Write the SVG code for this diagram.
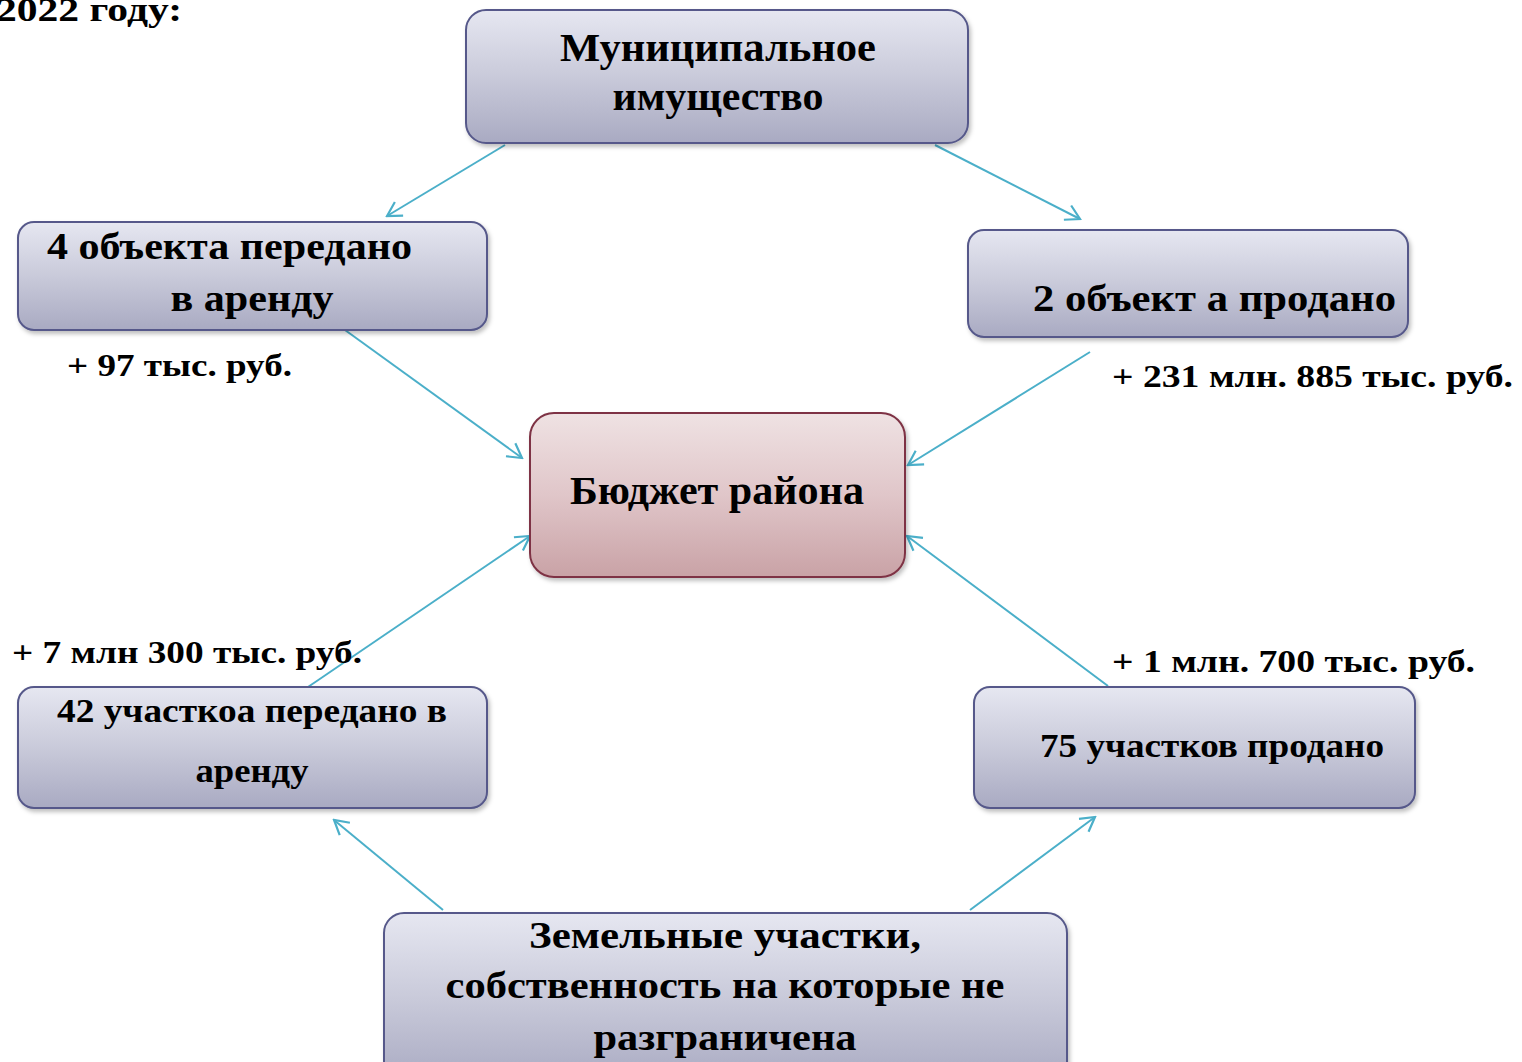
<svg xmlns="http://www.w3.org/2000/svg" width="1522" height="1062" viewBox="0 0 1522 1062">
<defs>
<linearGradient id="gb" x1="0" y1="0" x2="0" y2="1">
<stop offset="0" stop-color="#e6e7f1"/>
<stop offset="0.5" stop-color="#c9cada"/>
<stop offset="1" stop-color="#a9aac2"/>
</linearGradient>
<linearGradient id="gp" x1="0" y1="0" x2="0" y2="1">
<stop offset="0" stop-color="#efe2e3"/>
<stop offset="0.5" stop-color="#e0c6c9"/>
<stop offset="1" stop-color="#c9a2a6"/>
</linearGradient>
<filter id="sh" x="-5%" y="-5%" width="110%" height="115%">
<feDropShadow dx="2" dy="3" stdDeviation="2" flood-color="#000" flood-opacity="0.25"/>
</filter>
<marker id="ar" viewBox="0 0 20 20" refX="18" refY="10" markerWidth="20" markerHeight="20" markerUnits="userSpaceOnUse" orient="auto">
<polyline points="4,2 18,10 4,18" fill="none" stroke="#4bafc9" stroke-width="2.2"/>
</marker>
</defs>
<style>
.b{fill:url(#gb);stroke:#56598a;stroke-width:2;filter:url(#sh)}
.p{fill:url(#gp);stroke:#7e3344;stroke-width:2;filter:url(#sh)}
text{font-family:"Liberation Serif","Times New Roman",serif;font-weight:bold;fill:#000}
.c{text-anchor:middle}
.con line{stroke:#4bafc9;stroke-width:2;marker-end:url(#ar)}
</style>
<rect width="1522" height="1062" fill="#fff"/>
<text x="-4" y="21" font-size="34" textLength="186" lengthAdjust="spacingAndGlyphs">2022 году:</text>
<g class="con" id="connectors">
<line x1="505" y1="145" x2="387" y2="216"/>
<line x1="935" y1="145" x2="1080" y2="219"/>
<line x1="345" y1="330" x2="522" y2="458"/>
<line x1="1090" y1="352" x2="908" y2="465"/>
<line x1="308" y1="687" x2="530" y2="536"/>
<line x1="1108" y1="686" x2="907" y2="536"/>
<line x1="443" y1="910" x2="334" y2="820"/>
<line x1="970" y1="910" x2="1095" y2="817"/>
</g>
<g id="n-municipal">
<rect class="b" x="466" y="10" width="502" height="133" rx="20"/>
<text class="c" x="718" y="61" font-size="39" textLength="316" lengthAdjust="spacingAndGlyphs">Муниципальное</text>
<text class="c" x="718" y="110" font-size="39" textLength="211" lengthAdjust="spacingAndGlyphs">имущество</text>
</g>
<g id="n-rent-objects">
<rect class="b" x="18" y="222" width="469" height="108" rx="16"/>
<text x="47" y="259" font-size="37" textLength="365" lengthAdjust="spacingAndGlyphs">4 объекта передано</text>
<text class="c" x="252" y="311" font-size="37" textLength="163" lengthAdjust="spacingAndGlyphs">в аренду</text>
</g>
<g id="n-sold-objects">
<rect class="b" x="968" y="230" width="440" height="107" rx="16"/>
<text x="1033" y="311" font-size="37" textLength="363" lengthAdjust="spacingAndGlyphs">2 объект а продано</text>
</g>
<g id="n-budget">
<rect class="p" x="530" y="413" width="375" height="164" rx="24"/>
<text class="c" x="717" y="504" font-size="39" textLength="294" lengthAdjust="spacingAndGlyphs">Бюджет района</text>
</g>
<g id="n-rent-land">
<rect class="b" x="18" y="687" width="469" height="121" rx="16"/>
<text class="c" x="252" y="722" font-size="33" textLength="390" lengthAdjust="spacingAndGlyphs">42 участкоа передано в</text>
<text class="c" x="252" y="782" font-size="33" textLength="113" lengthAdjust="spacingAndGlyphs">аренду</text>
</g>
<g id="n-sold-land">
<rect class="b" x="974" y="687" width="441" height="121" rx="16"/>
<text x="1040" y="757" font-size="33" textLength="344" lengthAdjust="spacingAndGlyphs">75 участков продано</text>
</g>
<g id="n-land">
<rect class="b" x="384" y="913" width="683" height="170" rx="20"/>
<text class="c" x="725" y="948" font-size="38" textLength="392" lengthAdjust="spacingAndGlyphs">Земельные участки,</text>
<text class="c" x="725" y="998" font-size="38" textLength="559" lengthAdjust="spacingAndGlyphs">собственность на которые не</text>
<text class="c" x="725" y="1050" font-size="38" textLength="263" lengthAdjust="spacingAndGlyphs">разграничена</text>
</g>
<g id="labels">
<text x="67" y="376" font-size="31" textLength="225" lengthAdjust="spacingAndGlyphs">+ 97 тыс. руб.</text>
<text x="1112" y="387" font-size="31" textLength="401" lengthAdjust="spacingAndGlyphs">+ 231 млн. 885 тыс. руб.</text>
<text x="12" y="663" font-size="31" textLength="350" lengthAdjust="spacingAndGlyphs">+ 7 млн 300 тыс. руб.</text>
<text x="1112" y="672" font-size="31" textLength="363" lengthAdjust="spacingAndGlyphs">+ 1 млн. 700 тыс. руб.</text>
</g>
</svg>
